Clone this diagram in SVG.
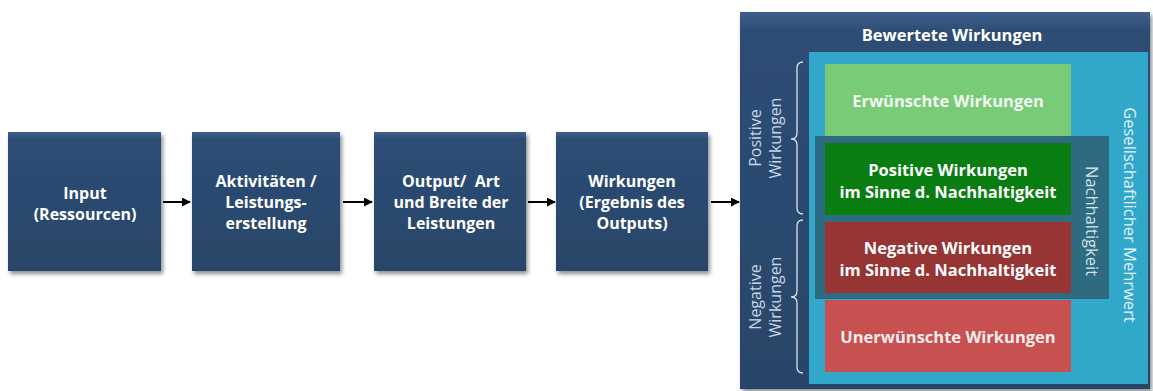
<svg xmlns="http://www.w3.org/2000/svg" width="1153" height="391" viewBox="0 0 1153 391">
  <style>
    .box { fill: url(#navyGrad); filter: url(#shadow); }
    .lbl { font-family: "Open Sans", "Liberation Sans", sans-serif; font-weight: bold; fill: #ffffff; text-anchor: middle; }
    .box-lbl { font-size: 16px; }
    .inner-lbl { font-size: 16.5px; }
    .side { font-family: "Open Sans", "Liberation Sans", sans-serif; fill: #c9d6e6; text-anchor: middle; font-size: 16px; }
    .conn { stroke: #000000; stroke-width: 2; fill: none; marker-end: url(#arrow); }
    .brace { stroke: #d8e2ee; stroke-width: 1.3; fill: none; }
  </style>
  <defs>
    <linearGradient id="navyGrad" x1="0" y1="0" x2="0" y2="1">
      <stop offset="0" stop-color="#3d5f8a"/>
      <stop offset="0.05" stop-color="#2e4d75"/>
      <stop offset="1" stop-color="#284569"/>
    </linearGradient>
    <filter id="shadow" x="-10%" y="-10%" width="125%" height="125%">
      <feGaussianBlur in="SourceAlpha" stdDeviation="2"/>
      <feOffset dx="1.5" dy="2.5" result="b"/>
      <feComponentTransfer><feFuncA type="linear" slope="0.45"/></feComponentTransfer>
      <feMerge><feMergeNode/><feMergeNode in="SourceGraphic"/></feMerge>
    </filter>
    <marker id="arrow" viewBox="0 0 10 10" refX="9" refY="5" markerWidth="4.5" markerHeight="4.5" orient="auto" markerUnits="strokeWidth">
      <path d="M0,0 L10,5 L0,10 z" fill="#000000"/>
    </marker>
  </defs>

  <rect width="1153" height="391" fill="#ffffff"/>

  <!-- process chain -->
  <g id="input">
    <rect class="box" x="8" y="132" width="153" height="139"/>
    <text class="lbl box-lbl" x="85" y="199">Input</text>
    <text class="lbl box-lbl" x="85" y="220">(Ressourcen)</text>
  </g>
  <g id="aktivitaeten">
    <rect class="box" x="192" y="132" width="148" height="139"/>
    <text class="lbl box-lbl" x="266" y="187">Aktivitäten /</text>
    <text class="lbl box-lbl" x="266" y="208">Leistungs-</text>
    <text class="lbl box-lbl" x="266" y="229">erstellung</text>
  </g>
  <g id="output">
    <rect class="box" x="374" y="132" width="152" height="139"/>
    <text class="lbl box-lbl" x="451" y="187" xml:space="preserve">Output/  Art</text>
    <text class="lbl box-lbl" x="451" y="208">und Breite der</text>
    <text class="lbl box-lbl" x="451" y="229">Leistungen</text>
  </g>
  <g id="wirkungen">
    <rect class="box" x="556" y="132" width="152" height="139"/>
    <text class="lbl box-lbl" x="632" y="187">Wirkungen</text>
    <text class="lbl box-lbl" x="632" y="208">(Ergebnis des</text>
    <text class="lbl box-lbl" x="632" y="229">Outputs)</text>
  </g>

  <g id="connectors">
    <line class="conn" x1="163" y1="202" x2="190" y2="202"/>
    <line class="conn" x1="343" y1="202" x2="372" y2="202"/>
    <line class="conn" x1="528" y1="202" x2="555" y2="202"/>
    <line class="conn" x1="711" y1="202" x2="739" y2="202"/>
  </g>

  <!-- evaluated effects panel -->
  <g id="bewertete-wirkungen">
    <rect class="box" x="740" y="12" width="410" height="377"/>
    <text class="lbl" x="952" y="41" font-size="16.5px">Bewertete Wirkungen</text>
  </g>

  <g id="mehrwert">
    <rect x="809" y="52" width="339" height="332" fill="#31a8c9"/>
    <text class="side" transform="translate(1124,215) rotate(90)" style="font-size:16.5px;fill:#e4f2f8">Gesellschaftlicher Mehrwert</text>
  </g>

  <g id="erwuenscht">
    <rect x="825" y="64" width="246" height="72" fill="#7acb78"/>
    <text class="lbl inner-lbl" x="948" y="107" style="fill:#f2faf1">Erwünschte Wirkungen</text>
  </g>

  <g id="nachhaltigkeit">
    <rect x="815" y="136" width="294" height="163" fill="#2e6a80"/>
    <text class="side" transform="translate(1086,221) rotate(90)" style="font-size:16.5px;fill:#d6e4ec">Nachhaltigkeit</text>
  </g>

  <g id="positiv-nachhaltig">
    <rect x="825" y="143" width="246" height="72" fill="#0a7d12"/>
    <text class="lbl inner-lbl" x="948" y="176">Positive Wirkungen</text>
    <text class="lbl inner-lbl" x="948" y="198">im Sinne d. Nachhaltigkeit</text>
  </g>

  <g id="negativ-nachhaltig">
    <rect x="825" y="222" width="246" height="71" fill="#973535"/>
    <text class="lbl inner-lbl" x="948" y="254">Negative Wirkungen</text>
    <text class="lbl inner-lbl" x="948" y="276">im Sinne d. Nachhaltigkeit</text>
  </g>

  <g id="unerwuenscht">
    <rect x="825" y="300" width="246" height="72" fill="#c65150"/>
    <text class="lbl inner-lbl" x="948" y="343" style="fill:#f7eded">Unerwünschte Wirkungen</text>
  </g>

  <g id="positive-wirkungen">
    <path class="brace" d="M803,62 Q797,62 797,68 L797,133 Q797,139 791,139 Q797,139 797,145 L797,208 Q797,214 803,214"/>
    <text class="side" transform="translate(761,138) rotate(-90)">Positive</text>
    <text class="side" transform="translate(781,138) rotate(-90)">Wirkungen</text>
  </g>

  <g id="negative-wirkungen">
    <path class="brace" d="M803,220 Q797,220 797,226 L797,291 Q797,297 791,297 Q797,297 797,303 L797,367 Q797,373 803,373"/>
    <text class="side" transform="translate(761,297) rotate(-90)">Negative</text>
    <text class="side" transform="translate(781,297) rotate(-90)">Wirkungen</text>
  </g>
</svg>
